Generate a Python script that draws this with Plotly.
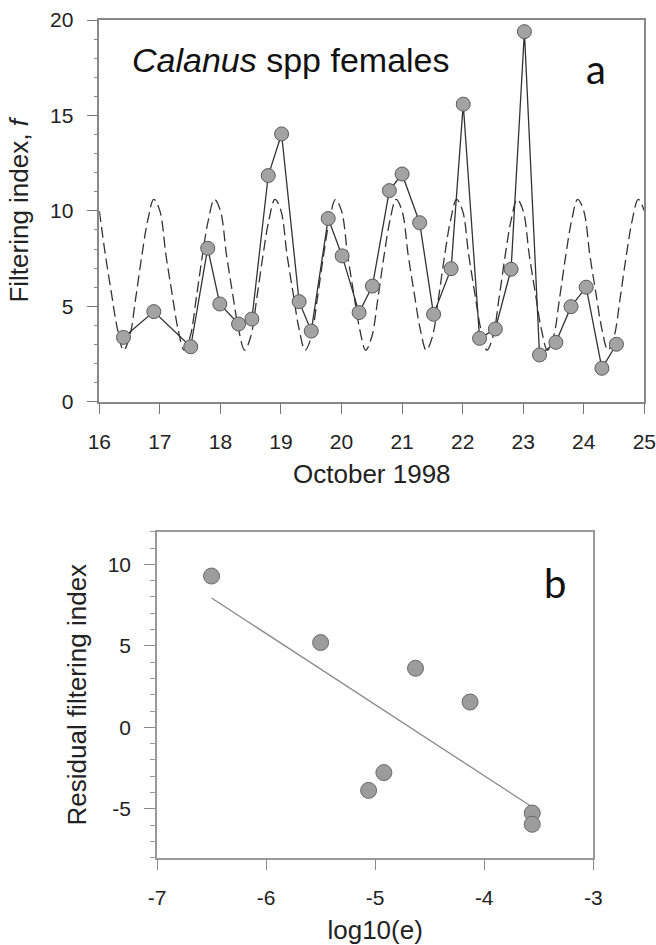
import numpy as np
import plotly.graph_objects as go

# ---- Panel a: observed filtering index (Calanus spp females) ----
obs_day = [16.40, 16.90, 17.51, 17.79, 17.99, 18.30, 18.52, 18.79, 19.01, 19.30,
           19.50, 19.78, 20.01, 20.29, 20.51, 20.79, 21.00, 21.29, 21.52, 21.81,
           22.01, 22.28, 22.54, 22.80, 23.02, 23.27, 23.54, 23.79, 24.04, 24.30, 24.54]
obs_f = [3.37, 4.72, 2.88, 8.04, 5.12, 4.07, 4.33, 11.85, 14.03, 5.24,
         3.70, 9.60, 7.64, 4.67, 6.06, 11.06, 11.93, 9.38, 4.58, 6.97,
         15.59, 3.32, 3.81, 6.94, 19.39, 2.45, 3.11, 4.98, 6.00, 1.75, 3.01]

# ---- Panel a: model curve (dashed), read every 0.1 day from 16.0 to 25.0 ----
model_f = [10.0, 7.7, 5.7, 3.8, 2.7, 3.4, 5.4, 7.6, 9.5, 10.6,
           10.0, 7.7, 5.7, 3.8, 2.7, 3.4, 5.4, 7.6, 9.5, 10.6,
           10.0, 7.7, 5.7, 3.8, 2.7, 3.4, 5.4, 7.6, 9.5, 10.6,
           10.0, 7.7, 5.7, 3.8, 2.7, 3.4, 5.4, 7.6, 9.5, 10.6,
           10.0, 7.7, 5.7, 3.8, 2.7, 3.4, 5.4, 7.6, 9.5, 10.6,
           10.0, 7.7, 5.7, 3.8, 2.7, 3.4, 5.4, 7.6, 9.5, 10.6,
           10.0, 7.7, 5.7, 3.8, 2.7, 3.4, 5.4, 7.6, 9.5, 10.6,
           10.0, 7.7, 5.7, 3.8, 2.7, 3.4, 5.4, 7.6, 9.5, 10.6,
           10.0, 7.7, 5.7, 3.8, 2.7, 3.4, 5.4, 7.6, 9.5, 10.6,
           10.0]
model_day = [round(16.0 + 0.1 * i, 1) for i in range(len(model_f))]

day_ticks = [16, 17, 18, 19, 20, 21, 22, 23, 24, 25]
day_labels = ["16", "17", "18", "19", "20", "21", "22", "23", "24", "25"]
f_ticks = [0, 5, 10, 15, 20]
f_labels = ["0", "5", "10", "15", "20"]

# ---- Panel b: residual filtering index vs log10(e) ----
log_e = [-6.50, -5.50, -4.63, -4.13, -4.92, -5.06, -3.56, -3.56]
resid = [9.28, 5.20, 3.62, 1.55, -2.78, -3.87, -5.26, -5.95]
le_ticks = [-7, -6, -5, -4, -3]
le_labels = ["-7", "-6", "-5", "-4", "-3"]
r_ticks = [-5, 0, 5, 10]
r_labels = ["-5", "0", "5", "10"]

slope, intercept = np.polyfit(log_e, resid, 1)
fit_x = [min(log_e), max(log_e)]
fit_y = [slope * v + intercept for v in fit_x]

W, H = 656, 945
FONT = "Liberation Sans, Arial, sans-serif"

def px_x(a, b):
    return [a / W, b / W]

def px_y(top, bottom):
    return [1 - bottom / H, 1 - top / H]

fig = go.Figure()

fig.add_trace(go.Scatter(x=model_day, y=model_f, mode="lines",
                         line=dict(color="#333333", width=1.3, dash="11px,5px", shape="spline"),
                         xaxis="x", yaxis="y", showlegend=False, hoverinfo="skip"))
fig.add_trace(go.Scatter(x=obs_day, y=obs_f, mode="lines+markers",
                         line=dict(color="#333333", width=1.3),
                         marker=dict(size=14, color="#a3a3a3", line=dict(color="#5a5a5a", width=1)),
                         xaxis="x", yaxis="y", showlegend=False))

fig.add_trace(go.Scatter(x=fit_x, y=fit_y, mode="lines",
                         line=dict(color="#8a8a8a", width=1.3),
                         xaxis="x2", yaxis="y2", showlegend=False, hoverinfo="skip"))
fig.add_trace(go.Scatter(x=log_e, y=resid, mode="markers",
                         marker=dict(size=16, color="#9c9c9c", line=dict(color="#6a6a6a", width=1)),
                         xaxis="x2", yaxis="y2", showlegend=False))

axis_common = dict(showgrid=False, zeroline=False, mirror=True, showline=True,
                   ticks="outside", ticklen=11, tickwidth=1.2, automargin=False,
                   tickfont=dict(family=FONT, size=21, color="#222222"),
                   ticklabelstandoff=9)

fig.update_layout(
    width=W, height=H,
    margin=dict(l=0, r=0, t=0, b=0),
    paper_bgcolor="white", plot_bgcolor="white",
    xaxis=dict(domain=px_x(99.3, 644.3), range=[16, 25], tickvals=day_ticks, ticktext=day_labels,
               linecolor="#888888", tickcolor="#777777", linewidth=1.5,
               anchor="y",
               title=dict(text="October 1998", font=dict(family=FONT, size=26, color="#222222"), standoff=13),
               **axis_common),
    yaxis=dict(domain=px_y(20, 401.7), range=[0, 20], tickvals=f_ticks, ticktext=f_labels,
               linecolor="#888888", tickcolor="#777777", linewidth=1.5,
               anchor="x",
               minor=dict(dtick=1, ticks="outside", ticklen=4, tickcolor="#888888", tickwidth=1),
               title=dict(text="Filtering index, <i>f</i>", font=dict(family=FONT, size=26, color="#222222"), standoff=14),
               **axis_common),
    xaxis2=dict(domain=px_x(157, 593.3), range=[-7, -3], tickvals=le_ticks, ticktext=le_labels,
                linecolor="#9a9a9a", tickcolor="#8a8a8a", linewidth=1.5,
                anchor="y2",
                title=dict(text="log10(e)", font=dict(family=FONT, size=26, color="#222222"), standoff=13),
                **axis_common),
    yaxis2=dict(domain=px_y(531.7, 857.7), range=[-8, 12], tickvals=r_ticks, ticktext=r_labels,
                linecolor="#9a9a9a", tickcolor="#8a8a8a", linewidth=1.5,
                anchor="x2",
                minor=dict(dtick=1, ticks="outside", ticklen=5, tickcolor="#9a9a9a", tickwidth=1),
                title=dict(text="Residual filtering index", font=dict(family=FONT, size=26, color="#222222"), standoff=14),
                **axis_common),
    annotations=[
        dict(text="<i>Calanus</i> spp females", x=16.50, y=17.9, xref="x", yref="y",
             xanchor="left", yanchor="middle", showarrow=False,
             font=dict(family=FONT, size=34, color="#111111")),
        dict(text="a", x=0.909, y=0.927, xref="paper", yref="paper",
             xanchor="center", yanchor="middle", showarrow=False,
             font=dict(family="Lato, Open Sans, sans-serif", size=40, color="#111111")),
        dict(text="b", x=0.846, y=0.383, xref="paper", yref="paper",
             xanchor="center", yanchor="middle", showarrow=False,
             font=dict(family="Lato, Open Sans, sans-serif", size=40, color="#111111")),
    ],
)

fig.write_html("out.html")
